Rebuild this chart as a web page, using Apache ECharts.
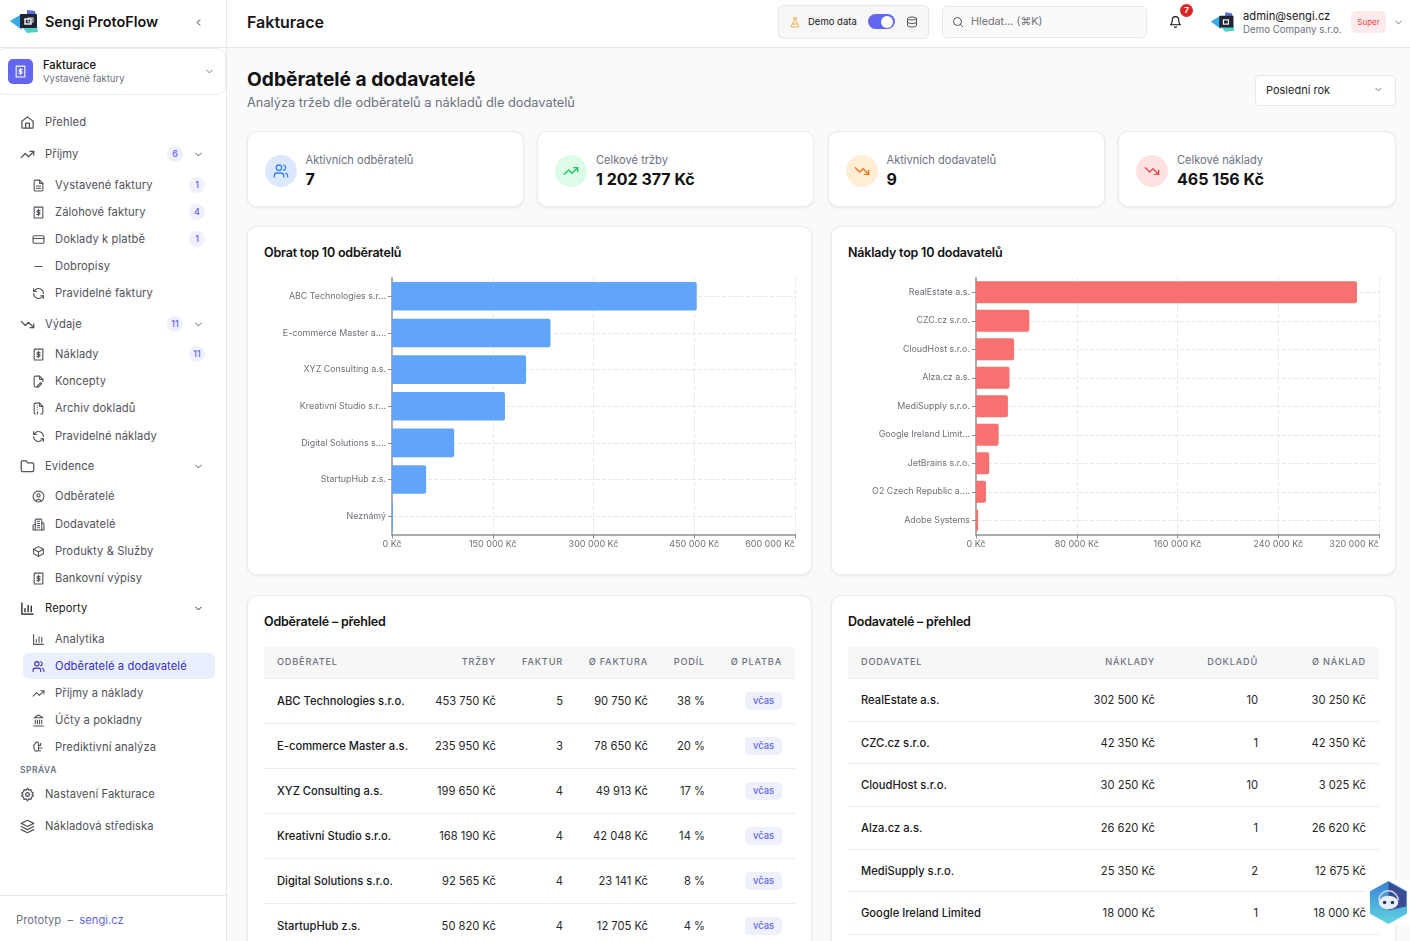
<!DOCTYPE html>
<html lang="cs">
<head>
<meta charset="utf-8">
<title>Odběratelé a dodavatelé</title>
<script src="https://cdn.jsdelivr.net/npm/echarts@6/dist/echarts.min.js"></script>
<style>
* { box-sizing: border-box; }
html, body { margin: 0; height: 100%; overflow: hidden; }
body { width: 1410px; height: 941px; position: relative; background: #fafafa; font-family: Inter, "Noto Sans", sans-serif; color: #111827; }
.abs { position: absolute; white-space: nowrap; }
i.ic { position: absolute; display: block; font-style: normal; }
i.ic svg { display: block; width: 100%; height: 100%; fill: none; stroke: currentColor; stroke-width: 2; stroke-linecap: round; stroke-linejoin: round; }
#side { position: absolute; left: 0; top: 0; width: 227px; height: 941px; background: #fff; border-right: 1px solid #e8e8ec; }
#head { position: absolute; left: 227px; top: 0; width: 1183px; height: 48px; background: #fff; border-bottom: 1px solid #e8e8ec; }
.nav { position: absolute; font-size: 11.2px; line-height: 14px; color: #52525b; white-space: nowrap; transform: translateY(-7px); letter-spacing: .1px; }
.badge { position: absolute; height: 16px; min-width: 16px; padding: 0 4px; border-radius: 8px; background: #eef0fb; color: #6366f1; font-size: 9px; line-height: 16px; text-align: center; font-weight: 500; transform: translateY(-8px); }
.card { position: absolute; background: #fff; border: 1px solid #ececf0; border-radius: 10px; box-shadow: 0 1px 3px rgba(0,0,0,.07); }
.kpi-dot { position: absolute; left: 17px; top: 23px; width: 32px; height: 32px; border-radius: 50%; }
.kpi-label { position: absolute; left: 58px; top: 21px; font-size: 11.1px; line-height: 14px; color: #6b7280; white-space: nowrap; }
.kpi-value { position: absolute; left: 58px; top: 37px; font-size: 16px; line-height: 20px; font-weight: 700; color: #111; white-space: nowrap; }
.card-title { position: absolute; left: 16px; top: 18px; font-size: 12.5px; line-height: 16px; font-weight: 600; color: #111; letter-spacing: -.2px; white-space: nowrap; }
.chart { position: absolute; width: 540px; height: 295px; }
table { position: absolute; left: 16px; top: 51px; width: 531px; table-layout: fixed; border-collapse: collapse; background: #fff; }
th { height: 31px; background: #f7f7f8; border-bottom: 1px solid #ececf0; color: #6b7280; font-size: 9.2px; font-weight: 500; letter-spacing: .8px; text-align: right; padding: 0 13px 2px 0; text-transform: uppercase; }
td { border-bottom: 1px solid #ececf0; font-size: 11.2px; color: #27272a; text-align: right; padding: 0 13px 0 0; white-space: nowrap; }
th:first-child, td:first-child { text-align: left; padding-left: 13px; }
td:first-child { font-weight: 500; color: #18181b; }
#t1 td { height: 45px; }
#t2 th { height: 31.5px; }
#t2 td { height: 42.7px; }
.ontime { display: inline-block; width: 37px; height: 18px; line-height: 18px; border-radius: 5px; background: #eef0fb; color: #6366f1; font-size: 9.4px; text-align: center; font-weight: 500; vertical-align: middle; }
</style>
</head>
<body>

<div id="side">
  <svg class="abs" style="left:9px;top:9px" width="31" height="25" viewBox="0 0 31 25"><polygon points="1,12 11,6 13,21" fill="#38a9e8"/><polygon points="14,19 28,17 29,23 18,24" fill="#4fd1c5"/><polygon points="18,1 26,2 27,6 18,6" fill="#5b6ee1"/><rect x="11" y="5" width="17" height="14" rx="1" fill="#1f2430"/><rect x="16" y="10" width="6" height="5" fill="none" stroke="#fff" stroke-width="1.4"/><rect x="19" y="9" width="5" height="4" fill="none" stroke="#ddd"/></svg>
  <div class="abs" style="left:45px;top:13px;font-size:14.4px;line-height:18px;font-weight:600;color:#111">Sengi ProtoFlow</div>
  <i class="ic" data-ic="left" style="left:193px;top:17px;width:11px;height:11px;color:#222"></i>
  <div class="abs" style="left:0;top:47px;width:226px;height:1px;background:#e8e8ec"></div>
  <div class="abs" style="left:-4px;top:48px;width:230px;height:47px;border:1px solid #ececf0;border-radius:9px;background:#fff"></div>
  <div class="abs" style="left:8px;top:59px;width:25px;height:25px;border-radius:5px;background:#6366f1"></div>
  <i class="ic" data-ic="receipt" style="left:14px;top:65px;width:13px;height:13px;color:#fff"></i>
  <div class="abs" style="left:43px;top:58px;font-size:11.2px;line-height:14px;font-weight:500;color:#111">Fakturace</div>
  <div class="abs" style="left:43px;top:72px;font-size:9.5px;line-height:13px;color:#6b7280">Vystavené faktury</div>
  <i class="ic" data-ic="down" style="left:204px;top:66px;width:11px;height:11px;color:#6b7280"></i>
  <div id="nav"></div>
  <div class="abs" style="left:0;top:895px;width:226px;height:1px;background:#e8e8ec"></div>
  <div class="abs" style="left:16px;top:913px;font-size:11.2px;line-height:14px;color:#6b7280">Prototyp &nbsp;–&nbsp; <span style="color:#6366f1">sengi.cz</span></div>
</div>

<div id="head">
  <div class="abs" style="left:20px;top:12px;font-size:16px;line-height:21px;font-weight:600;color:#18181b">Fakturace</div>
  <div class="abs" style="left:551px;top:5px;width:151px;height:34px;background:#f7f7f8;border:1px solid #e8e8ec;border-radius:5px"></div>
  <i class="ic" data-ic="flask" style="left:562px;top:16px;width:12px;height:13px;color:#eab04a"></i>
  <div class="abs" style="left:581px;top:15px;font-size:9.5px;line-height:14px;color:#18181b">Demo data</div>
  <div class="abs" style="left:641px;top:14px;width:27px;height:15px;border-radius:8px;background:#6366f1"></div>
  <div class="abs" style="left:654px;top:15.5px;width:12px;height:12px;border-radius:50%;background:#fff"></div>
  <i class="ic" data-ic="database" style="left:679px;top:16px;width:12px;height:12px;color:#52525b"></i>
  <div class="abs" style="left:715px;top:6px;width:205px;height:32px;background:#fafafa;border:1px solid #e8e8ec;border-radius:5px"></div>
  <i class="ic" data-ic="search" style="left:725px;top:16px;width:12px;height:12px;color:#52525b"></i>
  <div class="abs" style="left:744px;top:15px;font-size:10.8px;line-height:14px;color:#71717a">Hledat... (⌘K)</div>
  <i class="ic" data-ic="bell" style="left:942px;top:15px;width:13px;height:14px;color:#111"></i>
  <div class="abs" style="left:953px;top:4px;width:13px;height:13px;border-radius:50%;background:#dc2626;color:#fff;font-size:8px;line-height:13px;text-align:center;font-weight:700">7</div>
  <svg class="abs" style="left:983px;top:10px" width="26" height="24" viewBox="0 0 31 25"><polygon points="1,12 11,6 13,21" fill="#38a9e8"/><polygon points="14,19 28,17 29,23 18,24" fill="#4fd1c5"/><polygon points="18,1 26,2 27,6 18,6" fill="#5b6ee1"/><rect x="11" y="5" width="17" height="14" rx="1" fill="#1f2430"/><rect x="16" y="10" width="6" height="5" fill="none" stroke="#fff" stroke-width="1.4"/></svg>
  <div class="abs" style="left:1016px;top:9px;font-size:11.2px;line-height:14px;color:#18181b">admin@sengi.cz</div>
  <div class="abs" style="left:1016px;top:23px;font-size:9.7px;line-height:13px;color:#6b7280">Demo Company s.r.o.</div>
  <div class="abs" style="left:1124px;top:11px;width:35px;height:22px;border-radius:5px;background:#fdeaea;color:#ef4444;font-size:8px;line-height:22px;text-align:center">Super</div>
  <i class="ic" data-ic="down" style="left:1166px;top:17px;width:11px;height:11px;color:#6b7280"></i>
</div>

<div class="abs" style="left:247px;top:66px;font-size:19.2px;line-height:26px;font-weight:700;color:#111">Odběratelé a dodavatelé</div>
<div class="abs" style="left:247px;top:94px;font-size:12.8px;line-height:17px;color:#6b7280">Analýza tržeb dle odběratelů a nákladů dle dodavatelů</div>
<div class="abs" style="left:1255px;top:75px;width:141px;height:31px;background:#fff;border:1px solid #e8e8ec;border-radius:5px"></div>
<div class="abs" style="left:1266px;top:83px;font-size:11px;line-height:14px;color:#27272a">Poslední rok</div>
<i class="ic" data-ic="down" style="left:1373px;top:84px;width:11px;height:11px;color:#71717a"></i>

<div id="kpis"></div>

<div class="card" style="left:247px;top:226px;width:565px;height:349px"><div class="card-title">Obrat top 10 odběratelů</div></div>
<div class="chart" id="chartCustomers" style="left:264px;top:270px"></div>
<div class="card" style="left:831px;top:226px;width:565px;height:349px"><div class="card-title">Náklady top 10 dodavatelů</div></div>
<div class="chart" id="chartSuppliers" style="left:848px;top:270px"></div>

<div class="card" style="left:247px;top:595px;width:565px;height:420px"><div class="card-title">Odběratelé – přehled</div>
  <table id="t1"><colgroup><col style="width:150px"><col style="width:95px"><col style="width:67px"><col style="width:85px"><col style="width:57px"><col style="width:77px"></colgroup><thead></thead><tbody></tbody></table>
</div>
<div class="card" style="left:831px;top:595px;width:565px;height:420px"><div class="card-title">Dodavatelé – přehled</div>
  <table id="t2"><colgroup><col style="width:200px"><col style="width:120px"><col style="width:103px"><col style="width:108px"></colgroup><thead></thead><tbody></tbody></table>
</div>

<div class="abs" style="left:1366px;top:880px;width:44px;height:45px;background:#fff"></div>
<svg class="abs" style="left:1369px;top:881px" width="39" height="43" viewBox="0 0 40 44">
  <defs><linearGradient id="hx" x1="0" y1="0" x2="0" y2="1"><stop offset="0" stop-color="#3b82d6"/><stop offset="1" stop-color="#5ed4e0"/></linearGradient></defs>
  <polygon points="20,1 38,11 38,33 20,43 2,33 2,11" fill="url(#hx)" stroke="url(#hx)" stroke-width="2" stroke-linejoin="round"/>
  <polygon points="20,1 38,11 38,26 20,30" fill="#3c4a94"/>
  <path d="M10 20a10 10 0 0 1 20 0" fill="none" stroke="#cfd8ea" stroke-width="1.5"/>
  <ellipse cx="20" cy="22" rx="10" ry="7" fill="#e8eef6"/>
  <circle cx="16" cy="22" r="1.8" fill="#2b3560"/><circle cx="24" cy="22" r="1.8" fill="#2b3560"/>
</svg>

<script>
const customerNames = ['ABC Technologies s.r.o.', 'E-commerce Master a.s.', 'XYZ Consulting a.s.', 'Kreativní Studio s.r.o.', 'Digital Solutions s.r.o.', 'StartupHub z.s.', 'Neznámý']
const customerRevenue = [453750, 235950, 199650, 168190, 92565, 50820, 1452]
const customerInvoices = [5, 3, 4, 4, 4, 4]
const customerAverage = [90750, 78650, 49913, 42048, 23141, 12705]
const customerShare = [38, 20, 17, 14, 8, 4]

const supplierNames = ['RealEstate a.s.', 'CZC.cz s.r.o.', 'CloudHost s.r.o.', 'Alza.cz a.s.', 'MediSupply s.r.o.', 'Google Ireland Limited', 'JetBrains s.r.o.', 'O2 Czech Republic a.s.', 'Adobe Systems']
const supplierCosts = [302500, 42350, 30250, 26620, 25350, 18000, 10500, 7900, 1686]
const supplierDocs = [10, 1, 10, 1, 2, 1]
const supplierAverage = [30250, 42350, 3025, 26620, 12675, 18000]

const customerHeaders = ['Odběratel', 'Tržby', 'Faktur', 'Ø Faktura', 'Podíl', 'Ø Platba']
const supplierHeaders = ['Dodavatel', 'Náklady', 'Dokladů', 'Ø Náklad']

const icons = {
  left: '<path d="M15 18l-6-6 6-6"/>',
  down: '<path d="M6 9l6 6 6-6"/>',
  home: '<path d="M3 10l9-7 9 7v10a1 1 0 0 1-1 1H4a1 1 0 0 1-1-1z"/><path d="M9 21v-8h6v8"/>',
  up: '<path d="M22 7l-8.5 8.5-5-5L2 17"/><path d="M16 7h6v6"/>',
  fall: '<path d="M22 17l-8.5-8.5-5 5L2 7"/><path d="M16 17h6v-6"/>',
  file: '<path d="M14 2H6a2 2 0 0 0-2 2v16a2 2 0 0 0 2 2h12a2 2 0 0 0 2-2V8z"/><path d="M14 2v6h6M8 13h8M8 17h8"/>',
  receipt: '<path d="M4 2h16v20H4z"/><path d="M12 6v12M15 8.5h-4a1.75 1.75 0 0 0 0 3.5h2a1.75 1.75 0 0 1 0 3.5H9"/>',
  card: '<rect x="2" y="5" width="20" height="14" rx="2"/><path d="M2 10h20"/>',
  minus: '<path d="M5 12h14"/>',
  refresh: '<path d="M21 12a9 9 0 0 0-15-6.7L3 8"/><path d="M3 3v5h5"/><path d="M3 12a9 9 0 0 0 15 6.7l3-2.7"/><path d="M21 21v-5h-5"/>',
  pen: '<path d="M12 22H6a2 2 0 0 1-2-2V4a2 2 0 0 1 2-2h8l6 6v4"/><path d="M14 2v6h6M10 20l6-6 2 2-6 6h-2z"/>',
  archive: '<path d="M6 22a2 2 0 0 1-2-2V4a2 2 0 0 1 2-2h8l6 6v12a2 2 0 0 1-2 2h-2"/><path d="M14 2v6h6M10 6h.01M10 10h.01M10 14h.01M10 18v4"/>',
  folder: '<path d="M4 20h16a2 2 0 0 0 2-2V8a2 2 0 0 0-2-2h-8L10 3H4a2 2 0 0 0-2 2v13a2 2 0 0 0 2 2z"/>',
  user: '<circle cx="12" cy="12" r="10"/><circle cx="12" cy="10" r="3"/><path d="M7 20a6 6 0 0 1 10 0"/>',
  building: '<path d="M6 22V4a2 2 0 0 1 2-2h8a2 2 0 0 1 2 2v18z"/><path d="M6 12H4a2 2 0 0 0-2 2v8h4M18 9h2a2 2 0 0 1 2 2v11h-4M10 6h4M10 10h4M10 14h4M10 18h4"/>',
  box: '<path d="M21 8l-9-5-9 5v8l9 5 9-5z"/><path d="M3 8l9 5 9-5M12 13v8"/>',
  bars: '<path d="M3 3v18h18M8 17v-5M13 17V7M18 17v-9"/>',
  users: '<path d="M16 21v-2a4 4 0 0 0-4-4H6a4 4 0 0 0-4 4v2"/><circle cx="9" cy="7" r="4"/><path d="M22 21v-2a4 4 0 0 0-3-3.87M16 3.13a4 4 0 0 1 0 7.75"/>',
  bank: '<path d="M3 22h18M6 18v-7M10 18v-7M14 18v-7M18 18v-7M12 2l8 5H4z"/>',
  brain: '<path d="M12 5a3 3 0 0 0-6 0 3 3 0 0 0-2 5 3 3 0 0 0 1 5 3 3 0 0 0 5 3 2 2 0 0 0 2-2z"/><path d="M12 8h4V4M12 13h7M12 18h4"/>',
  gear: '<circle cx="12" cy="12" r="3"/><path d="M12 2l2 3 3.5-.8.8 3.5 3 2-2 2.3 2 2.3-3 2-.8 3.5-3.5-.8-2 3-2-3-3.5.8-.8-3.5-3-2 2-2.3-2-2.3 3-2 .8-3.5 3.5.8z"/>',
  layers: '<path d="M12 2L2 7l10 5 10-5z"/><path d="M2 12l10 5 10-5M2 17l10 5 10-5"/>',
  bell: '<path d="M6 8a6 6 0 0 1 12 0c0 7 3 9 3 9H3s3-2 3-9"/><path d="M10.3 21a2 2 0 0 0 3.4 0"/>',
  search: '<circle cx="11" cy="11" r="8"/><path d="M21 21l-4.3-4.3"/>',
  database: '<ellipse cx="12" cy="5" rx="9" ry="3"/><path d="M3 5v14c0 1.7 4 3 9 3s9-1.3 9-3V5"/><path d="M3 12c0 1.7 4 3 9 3s9-1.3 9-3"/>',
  flask: '<path d="M9 3h6M10 3v6L4.5 19a1.5 1.5 0 0 0 1.3 2h12.400a1.5 1.5 0 0 0 1.3-2L14 9V3M7 15h10"/>'
}

// sidebar rows: icon, label, level, center y, badge, chevron
const navRows = [
  ['home', 'Přehled', 0, 122],
  ['up', 'Příjmy', 0, 154, '6', 1],
  ['file', 'Vystavené faktury', 1, 185, '1'],
  ['receipt', 'Zálohové faktury', 1, 212, '4'],
  ['card', 'Doklady k platbě', 1, 239, '1'],
  ['minus', 'Dobropisy', 1, 266],
  ['refresh', 'Pravidelné faktury', 1, 293],
  ['fall', 'Výdaje', 0, 324, '11', 1],
  ['receipt', 'Náklady', 1, 354, '11'],
  ['pen', 'Koncepty', 1, 381],
  ['archive', 'Archiv dokladů', 1, 408],
  ['refresh', 'Pravidelné náklady', 1, 436],
  ['folder', 'Evidence', 0, 466, null, 1],
  ['user', 'Odběratelé', 1, 496],
  ['building', 'Dodavatelé', 1, 524],
  ['box', 'Produkty & Služby', 1, 551],
  ['receipt', 'Bankovní výpisy', 1, 578],
  ['bars', 'Reporty', 0, 608, null, 2],
  ['bars', 'Analytika', 1, 639],
  ['users', 'Odběratelé a dodavatelé', 1, 666],
  ['up', 'Příjmy a náklady', 1, 693],
  ['bank', 'Účty a pokladny', 1, 720],
  ['brain', 'Prediktivní analýza', 1, 747],
  ['gear', 'Nastavení Fakturace', 0, 794],
  ['layers', 'Nákladová střediska', 0, 826]
]

let navHtml = '<div class="abs" style="left:23px;top:653px;width:192px;height:26px;border-radius:6px;background:#e9effd"></div>'
navRows.forEach(r => {
  let iconX = r[2] ? 32 : 20
  let textX = r[2] ? 55 : 45
  let size = r[2] ? 13 : 15
  let active = r[1] === 'Odběratelé a dodavatelé'
  let strong = r[1] === 'Reporty'
  let color = active ? '#3730c4' : (strong ? '#18181b' : '#52525b')
  navHtml += `<i class="ic" data-ic="${r[0]}" style="left:${iconX}px;top:${r[3] - size / 2}px;width:${size}px;height:${size}px;color:${color}"></i>`
  navHtml += `<div class="nav" style="left:${textX}px;top:${r[3]}px;color:${color}">${r[1].replace('&', '&amp;')}</div>`
  if (r[4]) {
    let right = r[5] ? 43 : 21
    navHtml += `<div class="badge" style="right:${right}px;top:${r[3]}px">${r[4]}</div>`
  }
  if (r[5]) {
    navHtml += `<i class="ic" data-ic="down" style="left:193px;top:${r[3] - 5.5}px;width:11px;height:11px;color:${r[5] === 2 ? '#18181b' : '#52525b'}"></i>`
  }
})
navHtml += '<div class="abs" style="left:20px;top:764px;font-size:8.5px;line-height:12px;font-weight:600;letter-spacing:.5px;color:#6b7280">SPRÁVA</div>'
document.getElementById('nav').innerHTML = navHtml

// kpi cards
const kpiLabels = ['Aktivních odběratelů', 'Celkové tržby', 'Aktivních dodavatelů', 'Celkové náklady']
const kpiValues = ['7', '1 202 377 Kč', '9', '465 156 Kč']
const kpiIcons = ['users', 'up', 'fall', 'fall']
const kpiLefts = [246.5, 537, 827.5, 1118]
const kpiWidths = [277.5, 277, 277.5, 278]
const kpiBg = ['#dbe8fe', '#dcfce7', '#ffedd5', '#fee2e2']
const kpiFg = ['#3b82f6', '#22c55e', '#f97316', '#ef4444']
let kpiHtml = ''
kpiLabels.forEach((label, i) => {
  kpiHtml += `<div class="card" style="left:${kpiLefts[i]}px;top:131px;width:${kpiWidths[i]}px;height:76px">
    <div class="kpi-dot" style="background:${kpiBg[i]}"></div>
    <i class="ic" data-ic="${kpiIcons[i]}" style="left:25px;top:31px;width:16px;height:16px;color:${kpiFg[i]}"></i>
    <div class="kpi-label">${label}</div><div class="kpi-value">${kpiValues[i]}</div></div>`
})
document.getElementById('kpis').innerHTML = kpiHtml

document.querySelectorAll('i[data-ic]').forEach(el => {
  el.className = 'ic'
  el.innerHTML = '<svg viewBox="0 0 24 24">' + icons[el.dataset.ic] + '</svg>'
})

function kc(v) {
  return String(v).replace(/\B(?=(\d{3})+$)/g, ' ') + ' Kč'
}

// tables
document.querySelector('#t1 thead').innerHTML = '<tr>' + customerHeaders.map(h => `<th>${h}</th>`).join('') + '</tr>'
document.querySelector('#t1 tbody').innerHTML = customerInvoices.map((n, i) =>
  `<tr><td>${customerNames[i]}</td><td>${kc(customerRevenue[i])}</td><td>${n}</td><td>${kc(customerAverage[i])}</td><td>${customerShare[i]} %</td><td><span class="ontime">včas</span></td></tr>`
).join('')
document.querySelector('#t2 thead').innerHTML = '<tr>' + supplierHeaders.map(h => `<th>${h}</th>`).join('') + '</tr>'
document.querySelector('#t2 tbody').innerHTML = supplierDocs.map((n, i) =>
  `<tr><td>${supplierNames[i]}</td><td>${kc(supplierCosts[i])}</td><td>${n}</td><td>${kc(supplierAverage[i])}</td></tr>`
).join('')

function barChart(id, names, values, max, step, color, barWidth) {
  let chart = echarts.init(document.getElementById(id), null, { renderer: 'canvas' })
  chart.setOption({
    animation: false,
    grid: { left: 128, top: 8, width: 403, height: 256.5 },
    xAxis: {
      type: 'value',
      min: 0,
      max: max,
      interval: step,
      axisLine: { show: true, lineStyle: { color: '#adadad', width: 2 } },
      axisTick: { show: true, length: 4, lineStyle: { color: '#8c8c8c' } },
      axisLabel: {
        color: '#6e7079',
        fontSize: 9,
        fontFamily: 'Inter',
        margin: 5,
        alignMaxLabel: 'right',
        formatter: v => kc(v)
      },
      splitLine: { show: true, lineStyle: { type: 'dashed', color: '#e8e8e8' } }
    },
    yAxis: {
      type: 'category',
      inverse: true,
      data: names,
      axisLine: { show: true, lineStyle: { color: '#adadad', width: 2 } },
      axisTick: { show: true, alignWithLabel: true, length: 4, lineStyle: { color: '#8c8c8c' } },
      axisLabel: {
        color: '#6e7079',
        fontSize: 8.9,
        fontFamily: 'Inter',
        margin: 6,
        formatter: n => n.length > 20 ? n.slice(0, 20) + '...' : n
      },
      splitLine: { show: true, alignWithLabel: true, lineStyle: { type: 'dashed', color: '#e8e8e8' } }
    },
    series: [{
      type: 'bar',
      data: values,
      barWidth: barWidth,
      itemStyle: { color: color, borderRadius: [0, 2, 2, 0] }
    }]
  })
}

barChart('chartCustomers', customerNames, customerRevenue, 600000, 150000, '#60a5fa', '78%')
barChart('chartSuppliers', supplierNames, supplierCosts, 320000, 80000, '#f87171', '77%')
</script>
</body>
</html>
